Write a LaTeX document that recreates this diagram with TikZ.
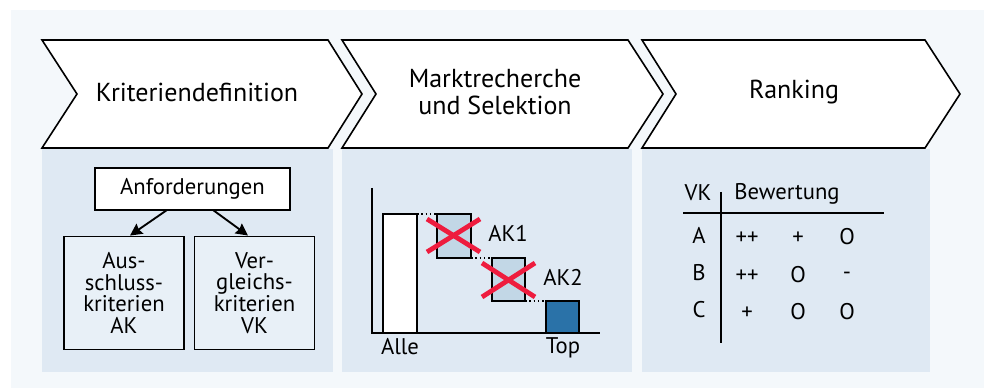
\documentclass[tikz,border=0pt]{standalone}
\usepackage{fontspec}
\setmainfont{PT Sans}
\usetikzlibrary{arrows.meta}
\definecolor{outerbg}{HTML}{F4F8FB}
\definecolor{panelbg}{HTML}{DFE9F3}
\definecolor{boxfill}{HTML}{E8F0F7}
\definecolor{akfill}{HTML}{C2D7E6}
\definecolor{topfill}{HTML}{2A72A8}
\definecolor{crossred}{HTML}{EE1C3E}
\tikzset{
  chev/.style={draw=black, fill=white, line width=1.2pt, line join=miter},
  panel/.style={fill=panelbg, draw=none},
  head/.style={font=\fontsize{19.5}{20}\selectfont, align=center, inner sep=0pt},
  lbl/.style={font=\fontsize{17}{16.3}\selectfont, align=center, inner sep=0pt},
  crit/.style={draw=black, fill=boxfill, line width=1.2pt, minimum width=90pt, minimum height=85pt, align=center, font=\fontsize{17}{16.3}\selectfont, inner sep=0pt},
  bar/.style={draw=black, line width=1.2pt},
  arr/.style={-{Stealth[length=9pt,width=9pt,inset=1pt]}, line width=1.4pt},
  dotl/.style={dotted, line width=1.2pt},
  xred/.style={draw=crossred, line width=3.6pt},
  axis/.style={line width=1.2pt},
}
\begin{document}
\begin{tikzpicture}[x=0.75pt,y=-0.75pt]
\useasboundingbox (0,0) rectangle (984,388);
\fill[white] (0,0) rectangle (984,388);
\fill[outerbg] (11,10) rectangle (984,388);
% panels
\fill[panel] (42,149) rectangle (333,372);
\fill[panel] (342,149) rectangle (632,372);
\fill[panel] (642,149) rectangle (930,372);
% chevrons
\draw[chev] (42,40) -- (328,40) -- (362,94) -- (328,148) -- (42,148) -- (77,94) -- cycle;
\draw[chev] (342,40) -- (628,40) -- (663,94) -- (628,148) -- (342,148) -- (376,94) -- cycle;
\draw[chev] (642,40) -- (925,40) -- (960,94) -- (925,148) -- (642,148) -- (676,94) -- cycle;
\node[head] (h1) at (197,92) {Kriteriendefinition};
\node[head] (h2) at (495,92) {Marktrecherche\\und Selektion};
\node[head] (h3) at (794,92) {Ranking};
% left panel
\node[draw=black, fill=white, line width=1.2pt, minimum width=146pt, minimum height=31.5pt, inner sep=0pt, font=\fontsize{17}{16.3}\selectfont] (anf) at (192.5,189) {Anforderungen};
\node[crit] (ak) at (124,293) {Aus-\\schluss-\\kriterien\\AK};
\node[crit] (vk) at (254.5,293) {Ver-\\gleichs-\\kriterien\\VK};
\coordinate (a1s) at (167,210);
\coordinate (a2s) at (213,210);
\draw[arr] (a1s) -- (ak.north -| 130,0);
\draw[arr] (a2s) -- (vk.north -| 248,0);
% middle panel chart
\coordinate (origin) at (372,333);
\coordinate (ytop) at (372,188);
\coordinate (xend) at (600,333);
\draw[axis] (ytop) -- (origin) -- (xend);
\draw[bar, fill=white] (383,214) rectangle (417,333);
\node (alle) [lbl] at (400,347) {Alle};
\draw[bar, fill=akfill] (437,214) rectangle (471,258);
\draw[bar, fill=akfill] (492,258) rectangle (525,301);
\draw[bar, fill=topfill] (546,301) rectangle (579,333);
\node (top) [lbl] at (563,348) {Top};
\draw[dotl] (417,214) -- (437,214);
\draw[dotl] (471,258) -- (492,258);
\draw[dotl] (525,301) -- (546,301);
\draw[xred] (427,219) -- (480,252);
\draw[xred] (427,252) -- (480,219);
\draw[xred] (482,263) -- (535,297);
\draw[xred] (482,297) -- (535,263);
\node (ak1) [lbl] at (508,233) {AK1};
\node (ak2) [lbl] at (563,277) {AK2};
% right panel table
\coordinate (vt) at (721,192);
\coordinate (vb) at (721,343);
\coordinate (hl) at (683,213);
\coordinate (hr) at (884,213);
\draw[axis] (vt) -- (vb);
\draw[axis] (hl) -- (hr);
\node (tvk) [lbl] at (698,193) {VK};
\node (tbw) [lbl] at (787,194) {Bewertung};
\node (ra) [lbl] at (699,235) {A};
\node (rb) [lbl] at (699,273) {B};
\node (rc) [lbl] at (699,310) {C};
\node (a1) [lbl] at (747,238) {++};
\node (a2) [lbl] at (798,238) {+};
\node (a3) [lbl] at (847,237) {O};
\node (b1) [lbl] at (747,276) {++};
\node (b2) [lbl] at (798,275) {O};
\node (b3) [lbl] at (847,276) {-};
\node (c1) [lbl] at (747,313) {+};
\node (c2) [lbl] at (798,312) {O};
\node (c3) [lbl] at (847,312) {O};
\end{tikzpicture}
\end{document}
